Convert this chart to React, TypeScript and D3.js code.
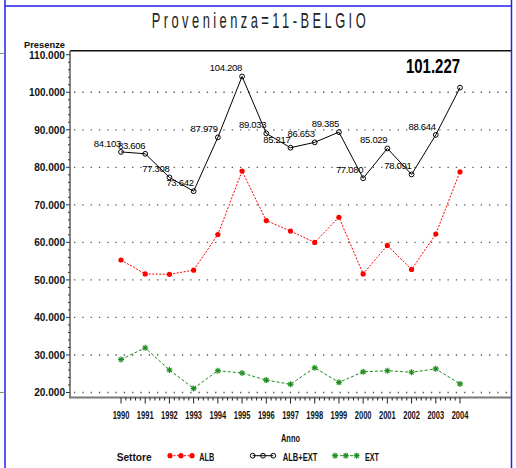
import React from "react";
import * as d3 from "d3";

const years = [1990, 1991, 1992, 1993, 1994, 1995, 1996, 1997, 1998, 1999, 2000, 2001, 2002, 2003, 2004];
const alb = [55300, 51600, 51500, 52600, 62100, 79000, 65800, 63000, 60000, 66700, 51600, 59200, 52800, 62200, 78800];
const tot = [84103, 83606, 77308, 73642, 87979, 104208, 89033, 85217, 86653, 89385, 77080, 85029, 78091, 88644, 101227];
const ext = [28800, 31900, 26000, 21100, 25800, 25200, 23300, 22200, 26600, 22700, 25500, 25800, 25400, 26300, 22300];
const yTicks = [20000, 30000, 40000, 50000, 60000, 70000, 80000, 90000, 100000, 110000];
const seriesNames = ["ALB", "ALB+EXT", "EXT"];

const W = 516, H = 468;
const RED = "#ff0000", GREEN = "#1e8c1e", BLACK = "#000";

const loc = d3.formatLocale({ thousands: ".", decimal: ",", grouping: [3], currency: ["", ""] });
const fmt = loc.format(",.0f");

function SasText({ x, y, w, anchor = "start", size = 10.5, weight = "bold", fill = "#111", children }: any) {
  const x0 = anchor === "start" ? x : anchor === "end" ? x - w : x - w / 2;
  return (
    <text x={x0} y={y} textLength={w} lengthAdjust="spacingAndGlyphs" fontSize={size} fontWeight={weight}
      fontFamily="Liberation Sans, Arial, sans-serif" fill={fill}>{children}</text>
  );
}

function Star({ cx, cy, r = 3, color }: any) {
  const d = r * 0.72;
  return (
    <g stroke={color} strokeWidth={1.2}>
      <line x1={cx - r} y1={cy} x2={cx + r} y2={cy} />
      <line x1={cx} y1={cy - r} x2={cx} y2={cy + r} />
      <line x1={cx - d} y1={cy - d} x2={cx + d} y2={cy + d} />
      <line x1={cx - d} y1={cy + d} x2={cx + d} y2={cy - d} />
    </g>
  );
}

export default function App() {
  const x = d3.scaleLinear().domain([1990, 2004]).range([121, 460]);
  const y = d3.scaleLinear().domain([18670, 111070]).range([397.5, 50.7]);
  const left = 70, right = 511, top = 50.7, bottom = 397.5;

  const line = d3.line<number>().x((_, i) => x(years[i])).y((v) => y(v));

  const minorX: number[] = [];
  for (let i = 0; i < years.length - 1; i++) for (let k = 1; k < 5; k++) minorX.push(years[i] + k / 5);
  const minorY: number[] = [];
  for (let v = 20000; v < 110000; v += 10000) for (let k = 1; k < 5; k++) minorY.push(v + k * 2000);

  const legY = 455.7;

  return (
    <svg width={W} height={H} style={{ position: "absolute", left: 0, top: 0, background: "#fff" }}>
      {/* blue frame */}
      <line x1={5} y1={6} x2={511.5} y2={6} stroke="#2222ee" strokeWidth={1.5} />
      <line x1={5} y1={0} x2={5} y2={H} stroke="#2222ee" strokeWidth={1.5} />
      <line x1={511.5} y1={0} x2={511.5} y2={H} stroke="#2222ee" strokeWidth={1.5} />
      <line x1={0} y1={53.5} x2={5} y2={53.5} stroke="#888" strokeWidth={1} />
      <line x1={0} y1={392.5} x2={5} y2={392.5} stroke="#888" strokeWidth={1} />

      {/* title */}
      <text transform="translate(151.7,28.3) scale(0.6,1)" x={0} y={0} textLength={214 / 0.6} lengthAdjust="spacing"
        fontSize={21.5} fontFamily="Liberation Sans, Arial, sans-serif" fill="#222">Provenienza=11-BELGIO</text>

      {/* gridlines */}
      {yTicks.filter((t) => t < 110000).map((t) => (
        <line key={t} x1={left + 4} x2={right} y1={y(t)} y2={y(t)} stroke="#555" strokeWidth={1.3} strokeDasharray="1.3 7" />
      ))}

      {/* frame / axes */}
      <line x1={left} y1={top} x2={right} y2={top} stroke="#111" strokeWidth={1.6} />
      <line x1={left} y1={top} x2={left} y2={bottom} stroke="#777" strokeWidth={1.8} />
      <line x1={left - 1} y1={bottom} x2={right} y2={bottom} stroke="#777" strokeWidth={2} />

      {/* y ticks */}
      {yTicks.map((t) => (
        <g key={t}>
          <line x1={left - 4} x2={left} y1={y(t)} y2={y(t)} stroke="#333" strokeWidth={1} />
          <SasText x={65} y={y(t) + 3.8} w={fmt(t).length * 5.14} anchor="end">{fmt(t)}</SasText>
        </g>
      ))}
      {minorY.map((t) => (
        <line key={t} x1={left - 2} x2={left} y1={y(t)} y2={y(t)} stroke="#333" strokeWidth={1} />
      ))}
      <SasText x={65} y={48} w={41} anchor="end" size={8.5}>Presenze</SasText>

      {/* x ticks */}
      {years.map((yr) => (
        <g key={yr}>
          <line x1={x(yr)} x2={x(yr)} y1={bottom} y2={bottom + 6} stroke="#222" strokeWidth={1} />
          <SasText x={x(yr)} y={418.5} w={16.7} anchor="middle">{String(yr)}</SasText>
        </g>
      ))}
      {minorX.map((v) => (
        <line key={v} x1={x(v)} x2={x(v)} y1={bottom} y2={bottom + 3} stroke="#222" strokeWidth={1} />
      ))}
      <SasText x={290.5} y={442.3} w={19} anchor="middle">Anno</SasText>

      {/* ALB */}
      <path d={line(alb) || ""} fill="none" stroke={RED} strokeWidth={1} strokeDasharray="2 1.5" />
      {alb.map((v, i) => (
        <circle key={i} cx={x(years[i])} cy={y(v)} r={2.6} fill={RED} />
      ))}

      {/* EXT */}
      <path d={line(ext) || ""} fill="none" stroke={GREEN} strokeWidth={1} strokeDasharray="3 2" />
      {ext.map((v, i) => (
        <Star key={i} cx={x(years[i])} cy={y(v)} r={3} color={GREEN} />
      ))}

      {/* ALB+EXT */}
      <path d={line(tot) || ""} fill="none" stroke={BLACK} strokeWidth={1} />
      {tot.map((v, i) => (
        <circle key={i} cx={x(years[i])} cy={y(v)} r={2.4} fill="none" stroke={BLACK} strokeWidth={1} />
      ))}
      {tot.map((v, i) =>
        i < tot.length - 1 ? (
          <text key={i} x={x(years[i])} y={y(v) - 5} textAnchor="end" fontSize={9.5} letterSpacing={-0.3}
            fontFamily="Liberation Sans, Arial, sans-serif" fill="#000">{fmt(v)}</text>
        ) : (
          <SasText key={i} x={x(years[i])} y={y(v) - 15} w={54} anchor="end" size={19.5} fill="#000">{fmt(v)}</SasText>
        )
      )}

      {/* legend */}
      <SasText x={116.7} y={461} w={35}>Settore</SasText>
      <line x1={170} x2={192} y1={legY} y2={legY} stroke={RED} strokeWidth={1} strokeDasharray="2 1.5" />
      {[170, 181, 192].map((cx) => <circle key={cx} cx={cx} cy={legY} r={2.6} fill={RED} />)}
      <SasText x={199.3} y={461} w={15}>{seriesNames[0]}</SasText>
      <line x1={252.7} x2={273.3} y1={legY} y2={legY} stroke={BLACK} strokeWidth={1} />
      {[252.7, 263, 273.3].map((cx) => <circle key={cx} cx={cx} cy={legY} r={2.4} fill="none" stroke={BLACK} strokeWidth={1} />)}
      <SasText x={282.7} y={461} w={34.7}>{seriesNames[1]}</SasText>
      <line x1={335} x2={356.7} y1={legY} y2={legY} stroke={GREEN} strokeWidth={1} strokeDasharray="3 2" />
      {[335, 345.8, 356.7].map((cx) => <Star key={cx} cx={cx} cy={legY} r={3} color={GREEN} />)}
      <SasText x={365} y={461} w={14}>{seriesNames[2]}</SasText>
    </svg>
  );
}
